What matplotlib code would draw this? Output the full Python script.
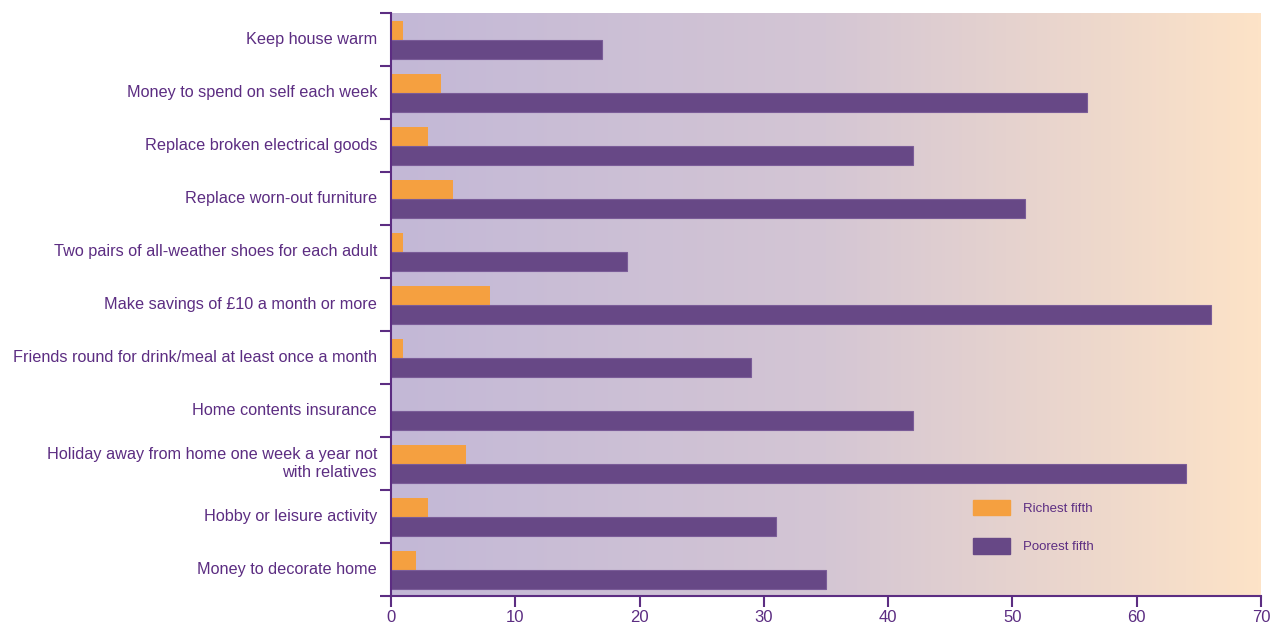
import numpy as np
import matplotlib.pyplot as plt
from matplotlib.patches import Patch
from matplotlib.colors import LinearSegmentedColormap

plt.rcParams['font.family'] = ['Liberation Sans', 'DejaVu Sans']

categories = [
    "Keep house warm",
    "Money to spend on self each week",
    "Replace broken electrical goods",
    "Replace worn-out furniture",
    "Two pairs of all-weather shoes for each adult",
    "Make savings of £10 a month or more",
    "Friends round for drink/meal at least once a month",
    "Home contents insurance",
    "Holiday away from home one week a year not\nwith relatives",
    "Hobby or leisure activity",
    "Money to decorate home",
]
richest = [1, 4, 3, 5, 1, 8, 1, 0, 6, 3, 2]
poorest = [17, 56, 42, 51, 19, 66, 29, 42, 64, 31, 35]

TEXT = '#5c2d82'
ORANGE = '#f5a040'
PURPLE = '#674886'

fig = plt.figure(figsize=(12.71, 6.26), dpi=100)
ax = fig.add_axes([0.3076, 0.0479, 0.6845, 0.9313])

n = len(categories)
y = np.arange(n)
h = 0.36

# background gradient lavender -> peach
cmap = LinearSegmentedColormap.from_list('bg', ['#c3b8d7', '#d4c6d4', '#fde3c7'])
grad = np.linspace(0, 1, 256).reshape(1, -1)
ax.imshow(grad, extent=[0, 70, n - 0.5, -0.5], aspect='auto', cmap=cmap, zorder=0)

ax.barh(y - h / 2 + 0.01, richest, height=h, color=ORANGE, zorder=2)
ax.barh(y + h / 2 + 0.01, poorest, height=h, color=PURPLE, edgecolor='#7a5c98', linewidth=0.8, zorder=2)

ax.set_xlim(0, 70)
ax.set_ylim(n - 0.5, -0.5)

ax.set_yticks(y)
ax.set_yticklabels(categories, fontsize=11.7, color=TEXT, ha='right', linespacing=1.3,
                   va='center')
ax.set_yticks(np.arange(n + 1) - 0.5, minor=True)
ax.tick_params(axis='y', which='major', length=0, pad=10)
ax.tick_params(axis='y', which='minor', length=8, width=1.5, color=TEXT, direction='out')
for lab in ax.get_yticklabels():
    lab.set_y(lab.get_position()[1])

ax.set_xticks(range(0, 71, 10))
ax.tick_params(axis='x', length=8, width=1.5, color=TEXT, labelcolor=TEXT, labelsize=12, pad=2)

for s in ['top', 'right']:
    ax.spines[s].set_visible(False)
for s in ['left', 'bottom']:
    ax.spines[s].set_color(TEXT)
    ax.spines[s].set_linewidth(1.5)

handles = [Patch(color=ORANGE, label='Richest fifth'),
           Patch(color=PURPLE, label='Poorest fifth')]
leg = ax.legend(handles=handles, loc='upper left', bbox_to_anchor=(0.655, 0.185),
                frameon=False, fontsize=9.5, handlelength=2.8, handleheight=1.4,
                labelspacing=1.75, handletextpad=1.0)
for t in leg.get_texts():
    t.set_color(TEXT)

fig.savefig('out.png', dpi=100)
